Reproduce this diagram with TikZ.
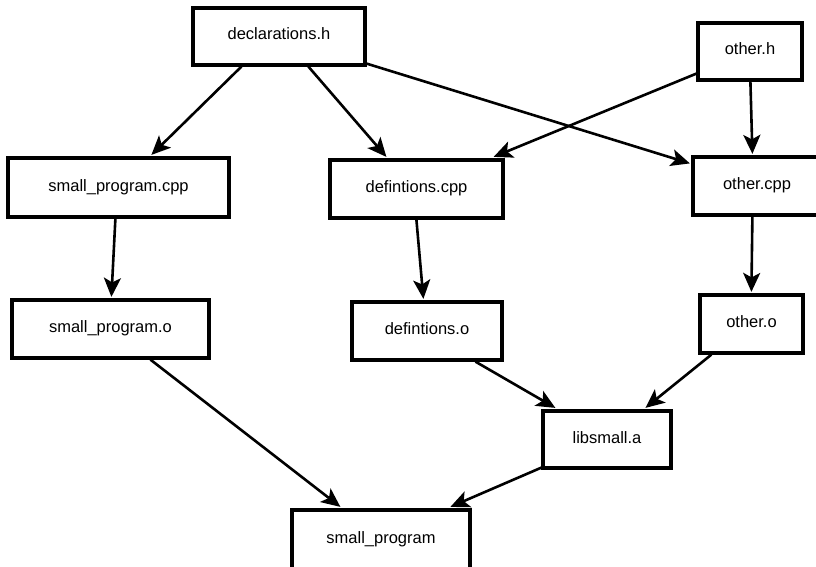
\documentclass[tikz,border=0pt]{standalone}
\usepackage{fontspec}
\setmainfont{Liberation Sans}
\usetikzlibrary{arrows.meta,calc}
\tikzset{
  box/.style={draw, line width=3.2pt, rectangle, inner sep=0pt, fill=white,
    font=\fontsize{16.5}{20}\selectfont, text height=13pt, text depth=6pt},
  conn/.style={line width=2.6pt, -{Stealth[length=19pt, width=17pt, inset=4.5pt]}}
}
\begin{document}
\begin{tikzpicture}[x=1pt, y=-1pt]
\useasboundingbox (0,0) rectangle (816,567);
\clip (0,0) rectangle (816,567);
\fill[white] (0,0) rectangle (816,567);
% nodes
\node[box, minimum width=172pt, minimum height=57pt] (decl) at (279,36.5) {declarations.h};
\node[box, minimum width=104pt, minimum height=57pt] (oth) at (750,51.5) {other.h};
\node[box, minimum width=221pt, minimum height=59pt] (spc) at (118.5,187.5) {small\_program.cpp};
\node[box, minimum width=173pt, minimum height=58pt] (dcpp) at (416.5,189) {defintions.cpp};
\node[box, minimum width=128pt, minimum height=58pt] (ocpp) at (757,186) {other.cpp};
\node[box, minimum width=197pt, minimum height=58pt] (spo) at (110.5,329) {small\_program.o};
\node[box, minimum width=150pt, minimum height=58pt] (do) at (427,331) {defintions.o};
\node[box, minimum width=103pt, minimum height=58pt] (oo) at (751.5,324) {other.o};
\node[box, minimum width=128pt, minimum height=57pt] (lib) at (607,439.5) {libsmall.a};
\node[box, minimum width=178pt, minimum height=60pt] (sp) at (381,540) {small\_program};
% connectors
\draw[conn] ($(decl.south west)+(50,0)$) -- ($(spc.north west)+(145,-1.5)$);
\draw[conn] ($(decl.south west)+(117,0)$) -- ($(dcpp.north west)+(58,-1.5)$);
\draw[conn] ($(decl.south east)+(0,-3)$) -- ($(ocpp.north west)+(-1.5,8)$);
\draw[conn] ($(oth.south west)+(0,-8)$) -- ($(dcpp.north east)+(-11,-1.5)$);
\draw[conn] ($(oth.south west)+(54,0)$) -- ($(ocpp.north west)+(61,-1.5)$);
\draw[conn] ($(spc.south west)+(109,0)$) -- ($(spo.north west)+(101,-1.5)$);
\draw[conn] ($(dcpp.south west)+(88,0)$) -- ($(do.north west)+(73,-1.5)$);
\draw[conn] ($(ocpp.south west)+(61,0)$) -- ($(oo.north west)+(53,-1.5)$);
\draw[conn] ($(spo.south west)+(140,0)$) -- ($(sp.north west)+(50,-1.5)$);
\draw[conn] ($(do.south west)+(125,0)$) -- ($(lib.north west)+(14,-1.5)$);
\draw[conn] ($(oo.south west)+(13,0)$) -- ($(lib.north west)+(104,-1.5)$);
\draw[conn] ($(lib.south west)+(0,-2)$) -- ($(sp.north west)+(160,-1.5)$);
\end{tikzpicture}
\end{document}
